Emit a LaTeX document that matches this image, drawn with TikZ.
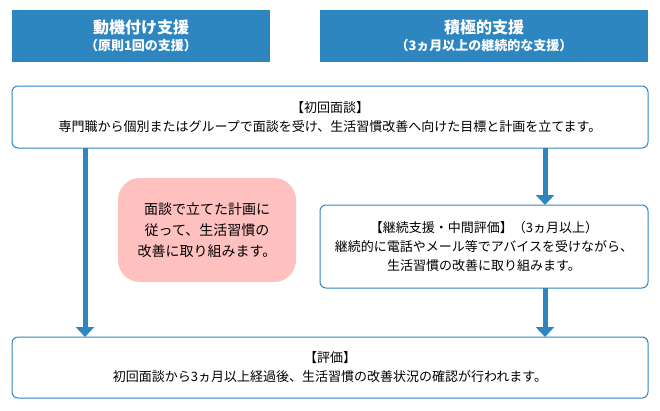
\documentclass[tikz,border=0pt]{standalone}
\usepackage{fontspec}
\setmainfont{Noto Sans CJK JP}
\usetikzlibrary{arrows.meta}
\definecolor{hb}{HTML}{2E86C1}
\definecolor{bd}{HTML}{2E86C1}
\definecolor{pk}{HTML}{FFC0C0}
\tikzset{
 hdr/.style={fill=hb,text=white,font=\bfseries,align=center,inner sep=0},
 box/.style={draw=bd,line width=1pt,rounded corners=6pt,fill=white,align=center,font=\fontsize{13}{19}\selectfont,inner sep=0},
 arr/.style={draw=hb,line width=5pt,-{Triangle[length=10pt,width=18pt]}}
}
\begin{document}
\begin{tikzpicture}[x=1pt,y=-1pt]
\useasboundingbox (0,0) rectangle (660,410);
\node[hdr,minimum width=258,minimum height=52] (h1) at (141,36) {{\fontsize{16}{20}\selectfont 動機付け支援}\\[3pt]{\fontsize{13}{15}\selectfont （原則1回の支援）}};
\node[hdr,minimum width=328,minimum height=52] (h2) at (484,36) {{\fontsize{16}{20}\selectfont 積極的支援}\\[3pt]{\fontsize{13}{15}\selectfont （3ヵ月以上の継続的な支援）}};
\node[box,minimum width=636,minimum height=62] (b1) at (330,117) {【初回面談】\\専門職から個別またはグループで面談を受け、生活習慣改善へ向けた目標と計画を立てます。};
\node[fill=pk,rounded corners=22pt,minimum width=178,minimum height=104,align=center,inner sep=0,font=\fontsize{14}{21}\selectfont] (pk) at (207,230) {面談で立てた計画に\\従って、生活習慣の\\改善に取り組みます。};
\node[box,minimum width=328,minimum height=83] (b2) at (484,246.5) {【継続支援・中間評価】（3ヵ月以上）\\継続的に電話やメール等でアバイスを受けながら、\\生活習慣の改善に取り組みます。};
\node[box,minimum width=636,minimum height=61] (b3) at (330,367.5) {【評価】\\初回面談から3ヵ月以上経過後、生活習慣の改善状況の確認が行われます。};
\coordinate (a1) at (85,148); \coordinate (a2) at (85,337);
\coordinate (c1) at (545,148); \coordinate (c2) at (545,205);
\coordinate (d1) at (545,288); \coordinate (d2) at (545,337);
\draw[arr] (a1) -- (a2);
\draw[arr] (c1) -- (c2);
\draw[arr] (d1) -- (d2);
\end{tikzpicture}
\end{document}
